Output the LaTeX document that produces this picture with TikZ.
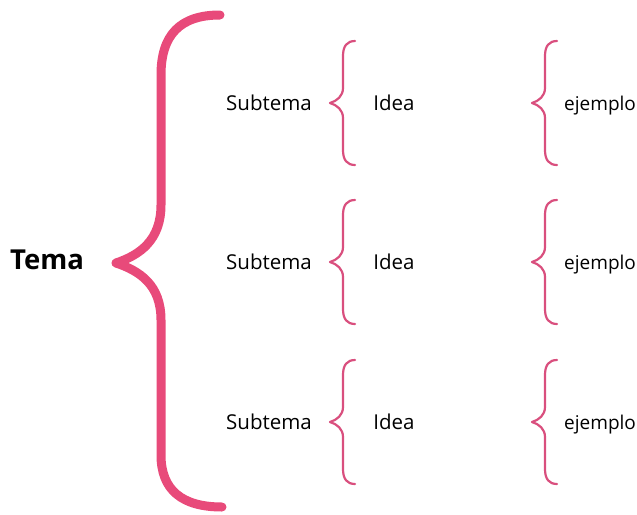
\documentclass[tikz,border=0pt]{standalone}
\usepackage{fontspec}
\setmainfont{Open Sans}
\usepackage{xcolor}
\usepackage{tikz}
\usetikzlibrary{positioning}
\definecolor{bgpink}{HTML}{E84A7A}
\definecolor{smpink}{HTML}{D94F7E}

\begin{document}
\begin{tikzpicture}[
  x=1pt, y=-1pt,
  tema/.style={font=\fontsize{27.5}{32}\selectfont\bfseries, inner sep=0pt},
  item/.style={font=\fontsize{20.5}{24}\selectfont, inner sep=0pt},
  ejitem/.style={font=\fontsize{19}{24}\selectfont, inner sep=0pt, anchor=base west},
  llavegrande/.style={draw=bgpink, line width=9pt, line cap=round, line join=round},
  llavefina/.style={draw=smpink, line width=2.2pt, line cap=round, line join=round},
  llave/.pic={
    \draw[llavefina] (25,-62) .. controls (17,-62) and (13,-57) .. (13,-47)
      -- (13,-15) .. controls (13,-7) and (7,-2) .. (0,0)
      .. controls (7,2) and (13,7) .. (13,15)
      -- (13,47) .. controls (13,57) and (17,62) .. (25,62);
  },
]
\useasboundingbox (0,0) rectangle (637,514);

% Tema y llave grande
\node[tema] (tema) at (47,260) {Tema};
\draw[llavegrande] (220,15) .. controls (180,15) and (161,35) .. (161,75)
  -- (161,205) .. controls (161,240) and (140,255) .. (116,263)
  .. controls (140,271) and (161,285) .. (161,320)
  -- (161,455) .. controls (161,490) and (182,507) .. (222,507);

% Filas: subtema, idea, ejemplo
\foreach \fila/\yy in {1/103, 2/262, 3/422} {
  \node[item] (sub\fila) at (269,\yy) {Subtema};
  \pic at (330,\yy) {llave};
  \node[item] (idea\fila) at (394,\yy) {Idea};
  \pic at (532,\yy) {llave};
  \node[ejitem] (ej\fila) at (idea\fila.base -| 564,0) {ejemplo};
}

\end{tikzpicture}
\end{document}
